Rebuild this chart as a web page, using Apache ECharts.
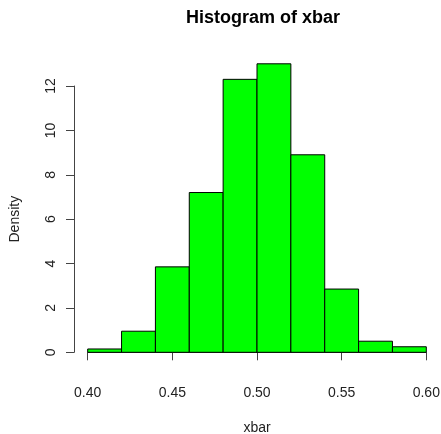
<!DOCTYPE html>
<html>
<head>
<meta charset="utf-8">
<script src="https://cdn.jsdelivr.net/npm/echarts@6/dist/echarts.min.js"></script>
<style>html,body{margin:0;padding:0;background:#fff}#c{width:441px;height:434px}</style>
</head>
<body>
<div id="c"></div>
<script>
var binStarts = [0.40, 0.42, 0.44, 0.46, 0.48, 0.50, 0.52, 0.54, 0.56, 0.58];
var binEnds   = [0.42, 0.44, 0.46, 0.48, 0.50, 0.52, 0.54, 0.56, 0.58, 0.60];
var density   = [0.15, 0.95, 3.85, 7.2, 12.3, 13.0, 8.9, 2.85, 0.5, 0.25];
var xTicks = [0.40, 0.45, 0.50, 0.55, 0.60];
var yTicks = [0, 2, 4, 6, 8, 10, 12];

var data = binStarts.map(function (s, i) { return [s, binEnds[i], density[i]]; });
var font = 'Liberation Sans, Arial, sans-serif';
var chart = echarts.init(document.getElementById('c'));
chart.setOption({
  animation: false,
  backgroundColor: '#fff',
  title: {
    text: 'Histogram of xbar', left: 258, top: 4, textAlign: 'center',
    textStyle: { fontFamily: font, fontSize: 18, fontWeight: 'bold', color: '#000' }
  },
  grid: { left: 87.7, right: 14.7, top: 86, bottom: 81.7, outerBoundsMode: 'none', containLabel: false },
  xAxis: {
    type: 'value', min: 0.40, max: 0.60, interval: 0.05, offset: 12,
    name: 'xbar', nameLocation: 'middle', nameGap: 57,
    nameTextStyle: { fontFamily: font, fontSize: 14, color: '#222' },
    axisLine: { show: true, lineStyle: { color: '#444', width: 1 } },
    axisTick: { show: true, length: 8, inside: false, lineStyle: { color: '#444' } },
    axisLabel: { fontFamily: font, fontSize: 14, color: '#222', margin: 22,
      formatter: function (v) { return v.toFixed(2); } },
    splitLine: { show: false }
  },
  yAxis: {
    type: 'value', min: 0, max: 12, interval: 2, offset: 13.7,
    name: 'Density', nameLocation: 'middle', nameGap: 52,
    nameTextStyle: { fontFamily: font, fontSize: 14, color: '#222' },
    axisLine: { show: true, lineStyle: { color: '#444', width: 1 } },
    axisTick: { show: true, length: 8, lineStyle: { color: '#444' } },
    axisLabel: { fontFamily: font, fontSize: 14, color: '#222', margin: 16, rotate: 90 },
    splitLine: { show: false }
  },
  series: [{
    type: 'custom',
    clip: false,
    data: data,
    renderItem: function (params, api) {
      var p0 = api.coord([api.value(0), 0]);
      var p1 = api.coord([api.value(1), api.value(2)]);
      return {
        type: 'rect',
        shape: { x: p0[0], y: p1[1], width: p1[0] - p0[0], height: p0[1] - p1[1] },
        style: { fill: '#00ff00', stroke: '#000', lineWidth: 1 }
      };
    }
  }]
});
</script>
</body>
</html>
